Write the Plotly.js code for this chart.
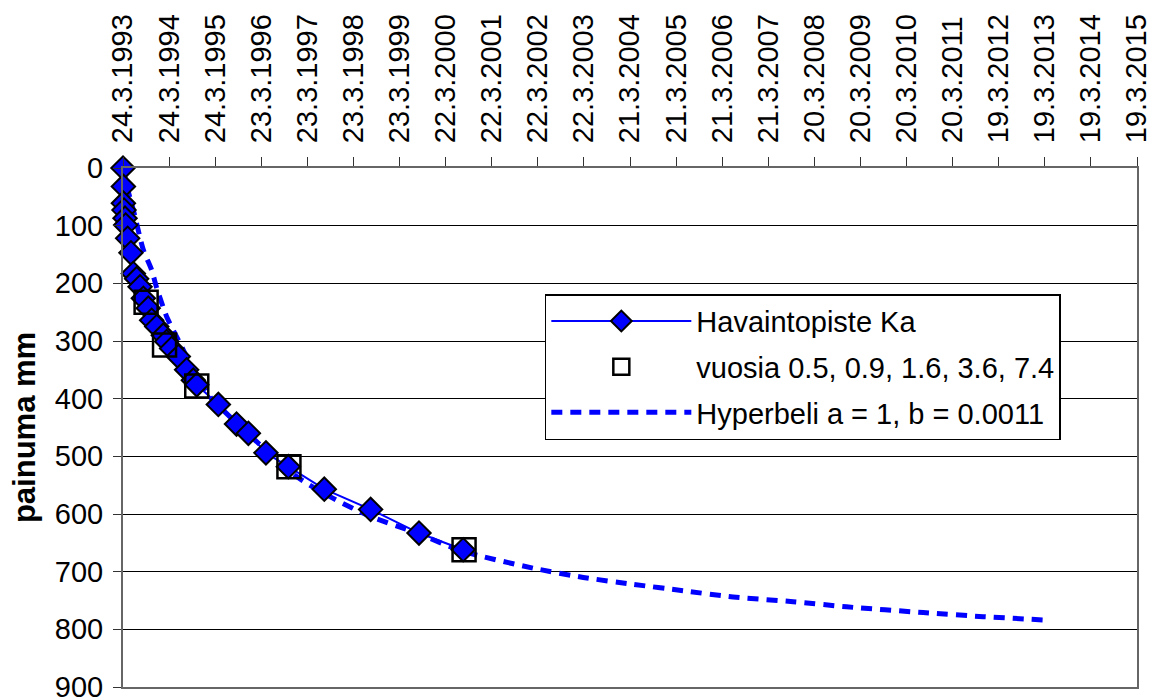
<!DOCTYPE html>
<html>
<head>
<meta charset="utf-8">
<script src="https://cdn.plot.ly/plotly-3.0.1.min.js"></script>
<style>html,body{margin:0;padding:0;background:#fff;}#chart{width:1157px;height:698px;}</style>
</head>
<body>
<div id="chart"></div>
<script>
// days since 24.3.1993 and settlement (mm)
const obsDays = [0,3,3,8,16,21,37,63,82,108,135,161,200,227,267,319,346,385,438,504,557,584,755,899,993,1132,1309,1594,1961,2344,2694];
const obsMm   = [0,32,61,73,87,99,122,147,183,192,206,226,243,264,275,290,301,313,327,350,368,376,410,444,460,494,518,557,592,633,662];

const yearDays = [183,329,584,1314,2701];
const yearMm   = [233,307,378,518,662];

const fitDays = [0,42,82,161,227,267,346,451,584,689,1375,1665,1956,2325,2694,3249,3645,4041,4436,4832,5307,5730,6337,6812,7314];
const fitMm   = [0,41,73,142,177,208,258,304,362,397,535,573,604,633,665,694,710,722,733,744,752,761,771,778,784];

const tickDays = [0,365,730,1095,1460,1825,2190,2555,2920,3285,3650,4015,4380,4745,5110,5475,5840,6205,6570,6935,7300,7665,8030];
const tickLabels = ['24.3.1993','24.3.1994','24.3.1995','23.3.1996','23.3.1997','23.3.1998','23.3.1999','22.3.2000','22.3.2001','22.3.2002','22.3.2003','21.3.2004','21.3.2005','21.3.2006','21.3.2007','20.3.2008','20.3.2009','20.3.2010','20.3.2011','19.3.2012','19.3.2013','19.3.2014','19.3.2015'];

const yTicks = [0,100,200,300,400,500,600,700,800,900];

const seriesNames = ['Havaintopiste Ka','vuosia 0.5, 0.9, 1.6, 3.6, 7.4','Hyperbeli a = 1, b = 0.0011'];

const FONT = 'Liberation Sans, Arial, sans-serif';

const traces = [
  {x: fitDays, y: fitMm, name: seriesNames[2], mode: 'lines', type: 'scatter', legendrank: 3, legendgroup: 'c',
   cliponaxis: false,
   line: {color: '#0000FF', width: 5, dash: '11px,8px', shape: 'spline', smoothing: 0.6}},
  {x: obsDays, y: obsMm, name: seriesNames[0], mode: 'lines+markers', type: 'scatter', legendrank: 1, legendgroup: 'a',
   cliponaxis: false,
   line: {color: '#0000FF', width: 2},
   marker: {symbol: 'diamond', size: 18, color: '#0000FF', line: {color: '#000', width: 2}}},
  {x: yearDays, y: yearMm, name: seriesNames[1], mode: 'markers', type: 'scatter', legendrank: 2, legendgroup: 'b',
   cliponaxis: false,
   marker: {symbol: 'square-open', size: 23, color: '#000', line: {color: '#000', width: 2.5}}}
];

const layout = {
  width: 1157, height: 698,
  margin: {l: 123, r: 20, t: 168, b: 11},
  paper_bgcolor: '#fff', plot_bgcolor: '#fff',
  font: {family: FONT, size: 29, color: '#000'},
  showlegend: true,
  legend: {x: 0.416, y: 0.757, xanchor: 'left', yanchor: 'top',
    bgcolor: '#fff', bordercolor: '#000', borderwidth: 1.5,
    font: {family: FONT, size: 29, color: '#000'}, itemwidth: 140, tracegroupgap: 5},
  xaxis: {
    side: 'top', range: [0, 8030], tickmode: 'array', tickvals: tickDays, ticktext: tickLabels,
    tickangle: -90, ticks: 'outside', ticklen: 9, tickcolor: '#333', tickwidth: 1, ticklabelstandoff: 8,
    showgrid: false, zeroline: false, showline: true, linecolor: '#666', linewidth: 2, mirror: true,
    tickfont: {family: FONT, size: 29, color: '#000'}, ticklabeloverflow: 'allow'
  },
  yaxis: {
    range: [900, 0], tickmode: 'array', tickvals: yTicks,
    ticks: 'outside', ticklen: 8, tickcolor: '#333', tickwidth: 1, ticklabelstandoff: 4,
    showgrid: true, gridcolor: '#000', gridwidth: 1, zeroline: false,
    showline: true, linecolor: '#666', linewidth: 2, mirror: true,
    tickfont: {family: FONT, size: 29, color: '#000'}, ticklabeloverflow: 'allow',
    title: {text: '<b>painuma mm</b>', font: {family: FONT, size: 31, color: '#000'}, standoff: 10}
  }
};

Plotly.newPlot('chart', traces, layout, {displayModeBar: false, staticPlot: true});
</script>
</body>
</html>
